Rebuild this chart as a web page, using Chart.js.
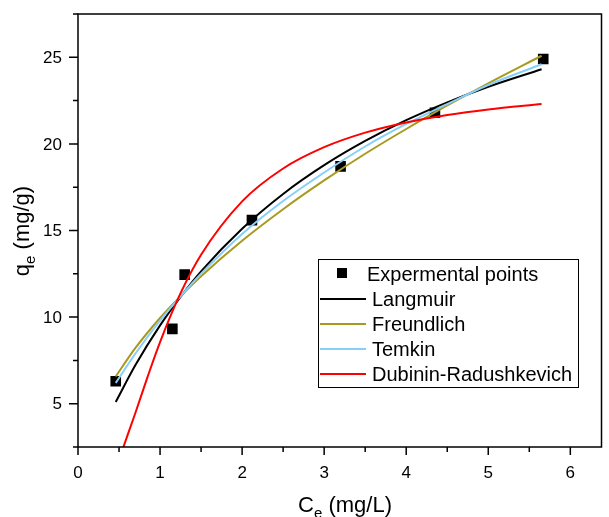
<!DOCTYPE html>
<html>
<head>
<meta charset="utf-8">
<script src="https://cdn.jsdelivr.net/npm/chart.js@4"></script>
<style>
  html, body { margin: 0; padding: 0; background: #fff; }
</style>
</head>
<body>
<canvas id="myChart" width="609" height="517"></canvas>
<script>
// experimental points
let expC = [0.46, 1.15, 1.30, 2.12, 3.20, 4.35, 5.67];
let expQ = [6.3, 9.32, 12.45, 15.6, 18.7, 21.8, 24.9];

// fitted curves
let fitC = [0.46, 0.7, 1.0, 1.25, 1.5, 2.0, 2.5, 3.0, 3.5, 4.0, 4.5, 5.0, 5.65];
let langmuirQ = [5.1, 7.23, 9.52, 11.17, 12.64, 15.1, 17.11, 18.77, 20.17, 21.37, 22.4, 23.3, 24.31];
let freundlichQ = [6.57, 8.22, 9.95, 11.21, 12.36, 14.41, 16.23, 17.89, 19.43, 20.86, 22.22, 23.5, 25.09];
let temkinQ = [6.2, 7.9, 9.8, 11.2, 12.5, 14.8, 16.7, 18.35, 19.85, 21.15, 22.3, 23.4, 24.6];

let drC = [0.55, 0.7, 0.85, 1.0, 1.25, 1.5, 2.0, 2.5, 3.0, 3.5, 4.0, 4.5, 5.0, 5.65];
let drQ = [2.45, 4.48, 6.58, 8.56, 11.38, 13.6, 16.68, 18.58, 19.81, 20.65, 21.24, 21.67, 21.99, 22.3];

let xTicks = [0, 1, 2, 3, 4, 5, 6];
let yTicks = [5, 10, 15, 20, 25];

let legendNames = ['Expermental points', 'Langmuir', 'Freundlich', 'Temkin', 'Dubinin-Radushkevich'];

function pairs(xs, ys) {
  return xs.map((x, i) => ({ x: x, y: ys[i] }));
}

let font = '"Liberation Sans", Arial, sans-serif';

// frame, ticks, labels, titles, legend
let decor = {
  id: 'decor',
  afterDraw(chart) {
    let ctx = chart.ctx;
    let a = chart.chartArea;
    let xs = chart.scales.x;
    let ys = chart.scales.y;
    ctx.save();
    ctx.strokeStyle = '#000';
    ctx.lineWidth = 1.5;
    ctx.strokeRect(a.left, a.top, a.right - a.left, a.bottom - a.top);

    ctx.lineWidth = 1.5;
    ctx.beginPath();
    for (let v = 0; v <= 6.3; v += 0.5) {
      let px = xs.getPixelForValue(v);
      let len = (Math.abs(v - Math.round(v)) < 0.01) ? 8 : 5;
      ctx.moveTo(px, a.bottom);
      ctx.lineTo(px, a.bottom + len);
    }
    for (let v = 2.5; v <= 27.51; v += 2.5) {
      let py = ys.getPixelForValue(v);
      let len = (Math.abs(v / 5 - Math.round(v / 5)) < 0.01) ? 9 : 5;
      ctx.moveTo(a.left, py);
      ctx.lineTo(a.left - len, py);
    }
    ctx.stroke();

    ctx.fillStyle = '#000';
    ctx.font = '17px ' + font;
    ctx.textAlign = 'center';
    ctx.textBaseline = 'alphabetic';
    xTicks.forEach(t => {
      ctx.fillText(String(t), xs.getPixelForValue(t), 478);
    });
    ctx.textAlign = 'right';
    ctx.textBaseline = 'middle';
    yTicks.forEach(t => {
      ctx.fillText(String(t), 62, ys.getPixelForValue(t) + 1);
    });

    // x title  C_e (mg/L)
    ctx.textAlign = 'left';
    ctx.textBaseline = 'alphabetic';
    let big = '22px ' + font, small = '15px ' + font;
    ctx.font = big;
    let w1 = ctx.measureText('C').width;
    let w3 = ctx.measureText(' (mg/L)').width;
    ctx.font = small;
    let w2 = ctx.measureText('e').width;
    let x0 = 345 - (w1 + w2 + w3) / 2;
    ctx.font = big;
    ctx.fillText('C', x0, 512);
    ctx.font = small;
    ctx.fillText('e', x0 + w1, 518);
    ctx.font = big;
    ctx.fillText(' (mg/L)', x0 + w1 + w2, 512);

    // y title  q_e (mg/g)
    ctx.save();
    ctx.translate(29, 231);
    ctx.rotate(-Math.PI / 2);
    ctx.font = big;
    w1 = ctx.measureText('q').width;
    w3 = ctx.measureText(' (mg/g)').width;
    ctx.font = small;
    w2 = ctx.measureText('e').width;
    x0 = -(w1 + w2 + w3) / 2;
    ctx.font = big;
    ctx.fillText('q', x0, 0);
    ctx.font = small;
    ctx.fillText('e', x0 + w1, 6);
    ctx.font = big;
    ctx.fillText(' (mg/g)', x0 + w1 + w2, 0);
    ctx.restore();

    // legend box
    ctx.fillStyle = '#fff';
    ctx.fillRect(318, 259, 260, 128);
    ctx.strokeStyle = '#000';
    ctx.lineWidth = 1;
    ctx.strokeRect(318.5, 259.5, 260, 128);
    ctx.font = '20px ' + font;
    ctx.textBaseline = 'middle';
    ctx.textAlign = 'left';
    let rows = [274, 299, 324, 349, 374];
    let ds = chart.data.datasets;
    // first row: square marker
    ctx.fillStyle = '#000';
    ctx.fillRect(337, 268, 10, 10);
    ctx.fillText(legendNames[0], 367, rows[0] + 1);
    for (let i = 1; i < 5; i++) {
      ctx.strokeStyle = ds[i].borderColor;
      ctx.lineWidth = 2;
      ctx.beginPath();
      ctx.moveTo(320, rows[i]);
      ctx.lineTo(366, rows[i]);
      ctx.stroke();
      ctx.fillStyle = '#000';
      ctx.fillText(legendNames[i], 372, rows[i] + 1);
    }
    ctx.restore();
  }
};

let ctx = document.getElementById('myChart').getContext('2d');

new Chart(ctx, {
  type: 'line',
  data: {
    datasets: [
      {
        label: legendNames[0],
        data: pairs(expC, expQ),
        showLine: false,
        pointStyle: 'rect',
        pointRadius: 7.5,
        backgroundColor: '#000',
        borderColor: '#000',
        borderWidth: 0,
        order: 10
      },
      {
        label: legendNames[1],
        data: pairs(fitC, langmuirQ),
        borderColor: '#000000',
        borderWidth: 2,
        pointRadius: 0,
        cubicInterpolationMode: 'monotone',
        order: 4
      },
      {
        label: legendNames[2],
        data: pairs(fitC, freundlichQ),
        borderColor: '#A89A1E',
        borderWidth: 2,
        pointRadius: 0,
        cubicInterpolationMode: 'monotone',
        order: 3
      },
      {
        label: legendNames[3],
        data: pairs(fitC, temkinQ),
        borderColor: '#87CEFA',
        borderWidth: 2,
        pointRadius: 0,
        cubicInterpolationMode: 'monotone',
        order: 2
      },
      {
        label: legendNames[4],
        data: pairs(drC, drQ),
        borderColor: '#FF0000',
        borderWidth: 2,
        pointRadius: 0,
        cubicInterpolationMode: 'monotone',
        order: 1
      }
    ]
  },
  options: {
    responsive: false,
    animation: false,
    layout: { padding: { top: 14, right: 1, left: 0, bottom: 0 } },
    plugins: {
      legend: { display: false },
      tooltip: { enabled: false }
    },
    scales: {
      x: {
        type: 'linear',
        min: 0,
        max: 6.38,
        grid: { display: false },
        border: { display: false },
        ticks: { display: false },
        afterFit: s => { s.height = 70; }
      },
      y: {
        min: 2.5,
        max: 27.5,
        grid: { display: false },
        border: { display: false },
        ticks: { display: false },
        afterFit: s => { s.width = 78; }
      }
    }
  },
  plugins: [decor]
});
</script>
</body>
</html>
